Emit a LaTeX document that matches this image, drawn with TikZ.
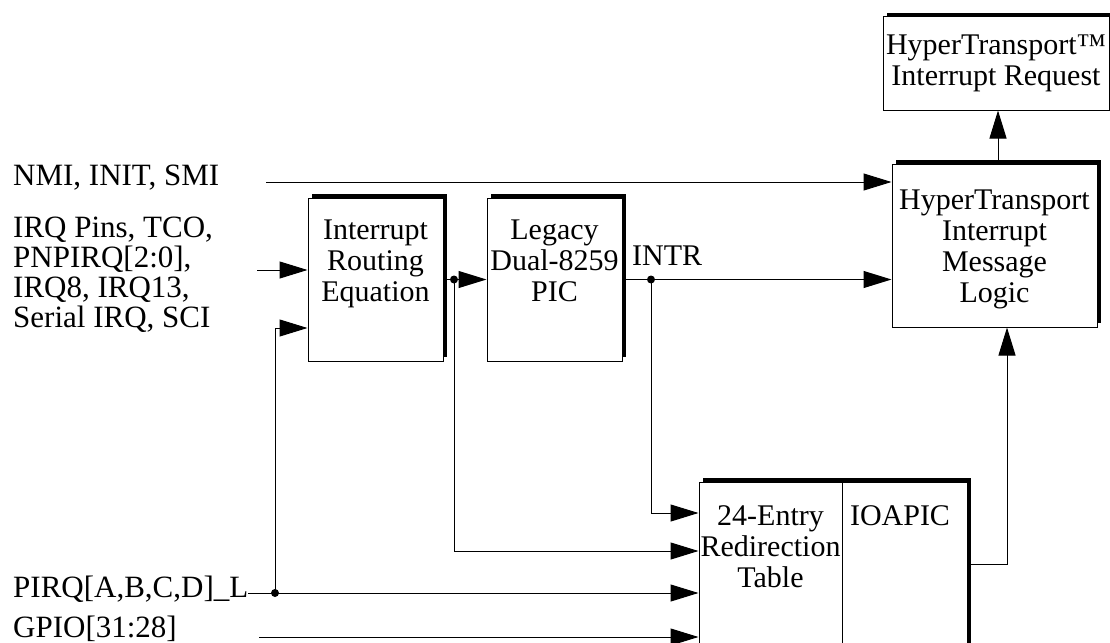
\documentclass[tikz,border=0pt]{standalone}
\usepackage{fontspec}
\setmainfont{Liberation Serif}
\usetikzlibrary{arrows.meta,shadows}
\tikzset{block/.style={draw,fill=white,line width=1pt,
                       drop shadow={shadow xshift=4pt,shadow yshift=4pt,
                                    fill=black,opacity=1}}}
\tikzset{txt/.style={inner sep=0pt,align=center,
                     font=\fontsize{30}{31}\selectfont}}
\tikzset{pin/.style={inner sep=0pt,align=left,
                     font=\fontsize{31}{30}\selectfont}}
\tikzset{sig/.style={line width=1pt,-{Triangle[length=28pt,width=17pt]}}}

\begin{document}
\begin{tikzpicture}[x=1pt,y=-1pt]
    \useasboundingbox (0,0) rectangle (1110,642);
    % Draw the blocks
    \node[block,minimum width=135pt,minimum height=163pt] (routing) at (375.5,279.5) {};
    \node[block,minimum width=135pt,minimum height=163pt] (legacy) at (554.5,279.5) {};
    \node[block,minimum width=205pt,minimum height=163pt] (logic) at (994.5,245.5) {};
    \node[block,txt,minimum width=226pt,minimum height=93pt] (request) at (996,63.5)
        {HyperTransport™\\Interrupt Request};
    \node[block,minimum width=268pt,minimum height=240pt] (ioapic) at (833,602) {};
    % Split the IOAPIC block
    \coordinate (split) at (842,482);
    \draw[line width=1pt] (split) -- (split |- ioapic.south);
    % Texts in the blocks
    \node[txt,anchor=north] (routingtxt) at ([yshift=-22pt]routing.north) {Interrupt\\Routing\\Equation};
    \node[txt,anchor=north] (legacytxt) at ([yshift=-22pt]legacy.north) {Legacy\\Dual-8259\\PIC};
    \node[txt,anchor=north] (logictxt) at ([yshift=-26pt]logic.north) {HyperTransport\\Interrupt\\Message\\Logic};
    \node[txt,anchor=north] (redirtxt) at (770.5,505) {24-Entry\\Redirection\\Table};
    \node[txt,anchor=north] (apictxt) at (900,505) {IOAPIC};
    % Input signals
    \node[pin,anchor=base west] (nmi) at (13,185) {NMI, INIT, SMI};
    \node[pin,anchor=north west] (irq) at (13,217) {IRQ Pins, TCO,\\PNPIRQ[2:0],\\IRQ8, IRQ13,\\Serial IRQ, SCI};
    \node[pin,anchor=base west] (pirq) at (13,597) {PIRQ[A,B,C,D]\_L};
    \node[pin,anchor=base west] (gpio) at (13,637) {GPIO[31:28]};
    \node[txt,anchor=base west] (intr) at (632,265) {INTR};
    % Connectors
    \coordinate (nmiin) at (266,182);
    \coordinate (irqin) at (257,270);
    \coordinate (gpioin) at (259,637);
    \coordinate (rdot) at (454,279.5);
    \coordinate (idot) at (651,279.5);
    \coordinate (pdot) at (275,593);
    \draw[sig] (nmiin) -- (nmiin -| logic.west);
    \draw[sig] (irqin) -- (irqin -| routing.west);
    \draw[sig] (routing.east) -- (legacy.west);
    \draw[sig] (legacy.east) -- (legacy.east -| logic.west);
    \draw[sig] (idot) |- (ioapic.west |- 0,513);
    \draw[sig] (rdot) |- (ioapic.west |- 0,551);
    \draw[sig] ([yshift=4pt]pirq.base east) -- (ioapic.west |- 0,593);
    \draw[sig] (pdot) |- (routing.west |- 0,328);
    \draw[sig] (gpioin) -- (gpioin -| ioapic.west);
    \draw[sig] (ioapic.east |- 0,564) -| ([xshift=12.5pt]logic.south);
    \draw[sig] (logic.north -| 998,0) -- (request.south -| 998,0);
    % Junction dots
    \foreach \d in {rdot,idot,pdot}
        \fill (\d) circle (4pt);
\end{tikzpicture}
\end{document}
